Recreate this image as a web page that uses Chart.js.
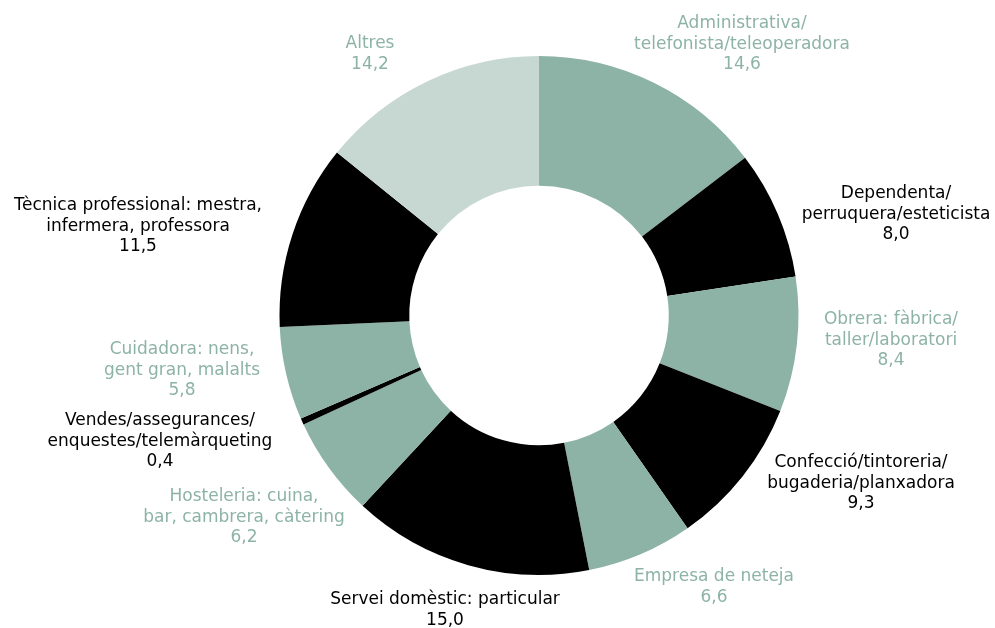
<!DOCTYPE html>
<html>
<head>
<meta charset="utf-8">
<script src="https://cdn.jsdelivr.net/npm/chart.js@4.4.0/dist/chart.umd.min.js"></script>
<style>
  html, body { margin: 0; padding: 0; background: #fff; }
  .chart-wrapper { width: 995px; height: 628px; position: relative; }
</style>
</head>
<body>
<div class="chart-wrapper">
  <canvas id="occupationChart" width="995" height="628"></canvas>
</div>
<script>
// Occupations (each label split into its printed lines)
const categories = [
  ['Administrativa/', 'telefonista/teleoperadora'],
  ['Dependenta/', 'perruquera/esteticista'],
  ['Obrera: fàbrica/', 'taller/laboratori'],
  ['Confecció/tintoreria/', 'bugaderia/planxadora'],
  ['Empresa de neteja'],
  ['Servei domèstic: particular'],
  ['Hosteleria: cuina,', 'bar, cambrera, càtering'],
  ['Vendes/assegurances/', 'enquestes/telemàrqueting'],
  ['Cuidadora: nens,', 'gent gran, malalts'],
  ['Tècnica professional: mestra,', 'infermera, professora'],
  ['Altres']
];
const shares = [14.6, 8.0, 8.4, 9.3, 6.6, 15.0, 6.2, 0.4, 5.8, 11.5, 14.2];

const GREEN = '#8db3a6';
const LIGHT = '#c6d8d1';
const BLACK = '#000000';
const sliceColors = [GREEN, BLACK, GREEN, BLACK, GREEN, BLACK, GREEN, BLACK, GREEN, BLACK, LIGHT];
const textColors = [GREEN, BLACK, GREEN, BLACK, GREEN, BLACK, GREEN, BLACK, GREEN, BLACK, GREEN];

// label centres (layout only, top line y)
const labelSpots = [
  [742, 24], [896, 194], [891, 320], [861, 463], [714, 577], [445, 600],
  [244, 497], [160, 421], [182, 350], [138, 206], [370, 44]
];

const fmt = v => v.toFixed(1).replace('.', ',');

const outsideLabels = {
  id: 'outsideLabels',
  afterDraw(chart) {
    const ctx = chart.ctx;
    ctx.save();
    ctx.font = '17px "DejaVu Sans", sans-serif';
    ctx.textAlign = 'center';
    ctx.textBaseline = 'middle';
    categories.forEach((lines, i) => {
      const [x, y] = labelSpots[i];
      ctx.fillStyle = textColors[i];
      const all = [...lines, fmt(shares[i])];
      all.forEach((t, k) => ctx.fillText(t, x, y + k * 20.5));
    });
    ctx.restore();
  }
};

const ctx = document.getElementById('occupationChart').getContext('2d');
new Chart(ctx, {
  type: 'doughnut',
  data: {
    labels: categories.map(c => c.join(' ')),
    datasets: [{
      data: shares,
      backgroundColor: sliceColors,
      borderWidth: 0,
    }],
  },
  options: {
    responsive: false,
    animation: false,
    cutout: '50%',
    layout: { padding: { top: 56, bottom: 53, left: 83, right: 0 } },
    plugins: {
      legend: { display: false },
      tooltip: { enabled: false },
    },
  },
  plugins: [outsideLabels],
});
</script>
</body>
</html>
